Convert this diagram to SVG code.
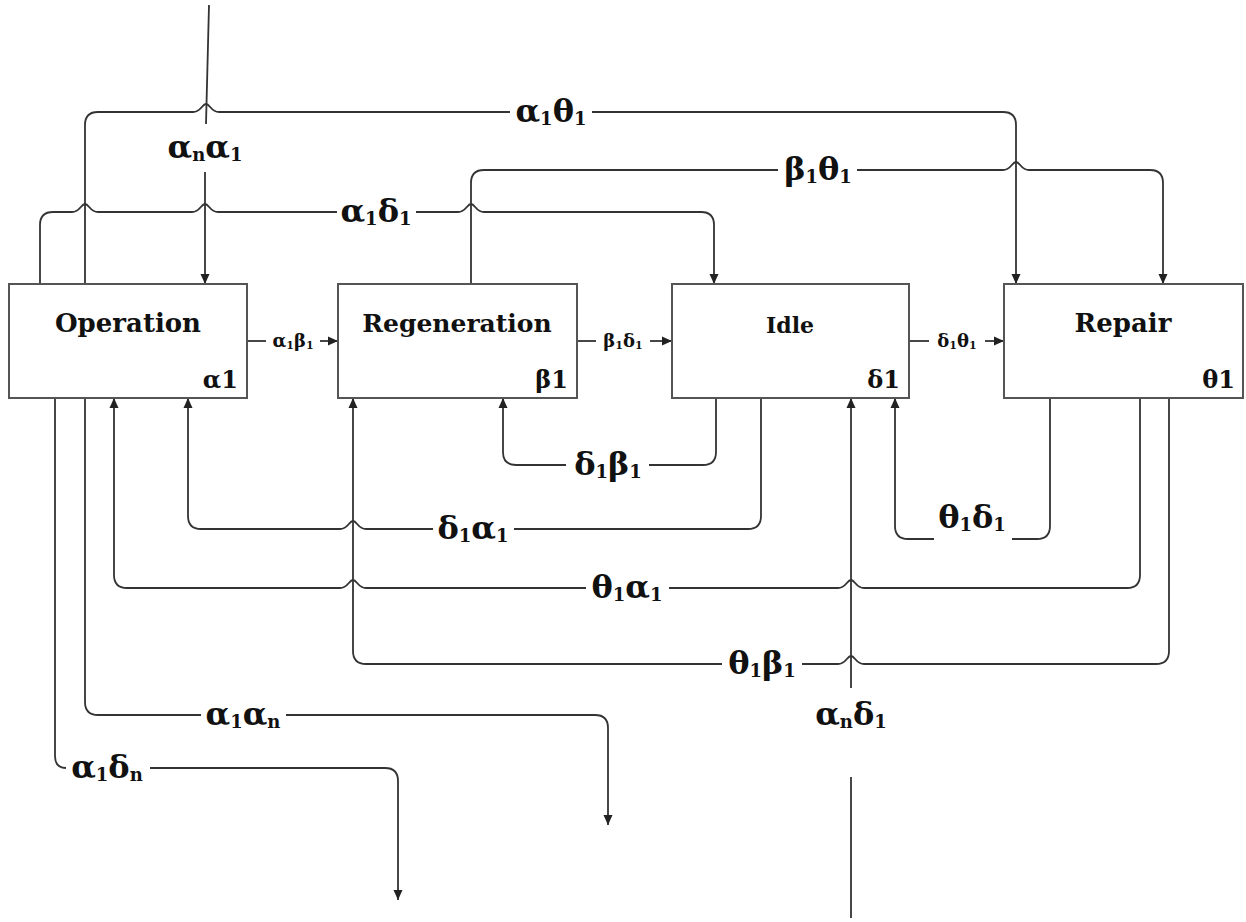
<svg xmlns="http://www.w3.org/2000/svg" width="1246" height="922" viewBox="0 0 1246 922">
<defs>
<marker id="ah" viewBox="0 0 10 10" refX="10" refY="5" markerWidth="10" markerHeight="10" markerUnits="userSpaceOnUse" orient="auto">
<path d="M0,0.5 L10,5 L0,9.5 Z" fill="#222"/>
</marker>
<style>
.box{fill:#fff;stroke:#555;stroke-width:2}
.ln{fill:none;stroke:#333;stroke-width:1.8}
.arr{fill:none;stroke:#333;stroke-width:1.8;marker-end:url(#ah)}
.title{font-family:"DejaVu Serif","Liberation Serif",serif;font-weight:bold;fill:#111;text-anchor:middle}
.corner{font-family:"DejaVu Serif","Liberation Serif",serif;font-weight:bold;font-size:24px;fill:#111;text-anchor:end}
.lbl{font-family:"DejaVu Serif","Liberation Serif",serif;font-weight:bold;font-size:32px;fill:#111;text-anchor:middle}
.sm{font-family:"DejaVu Serif","Liberation Serif",serif;font-weight:bold;font-size:18px;fill:#111;text-anchor:middle}
.sub{font-size:18px}
.ssub{font-size:11px}
</style>
</defs>

<g id="connectors">
<!-- alpha_n alpha_1 input from top -->
<path class="ln" d="M209,5 L206,124"/>
<path class="arr" d="M205,172 V284"/>
<!-- alpha1 theta1 -->
<path class="ln" d="M85,284 V125 Q85,112 98,112 H193 C201,112 202,104 206,104 C210,104 211,112 219,112 H510"/>
<path class="arr" d="M592,112 H1003 Q1016,112 1016,125 V284"/>
<!-- alpha1 delta1 -->
<path class="ln" d="M40,284 V225 Q40,212 53,212 H72 C80,212 81,204 85,204 C89,204 90,212 98,212 H192 C200,212 201,204 205,204 C209,204 210,212 218,212 H337"/>
<path class="arr" d="M416,212 H458 C466,212 467,204 471,204 C475,204 476,212 484,212 H701 Q714,212 714,225 V284"/>
<!-- beta1 theta1 -->
<path class="ln" d="M471,284 V183 Q471,170 484,170 H778"/>
<path class="arr" d="M857,170 H1003 C1011,170 1012,162 1016,162 C1020,162 1021,170 1029,170 H1150 Q1163,170 1163,183 V284"/>
<!-- horizontal arrows between boxes -->
<path class="ln" d="M247,341 H266"/>
<path class="arr" d="M320,341 H338"/>
<path class="ln" d="M577,341 H596"/>
<path class="arr" d="M650,341 H672"/>
<path class="ln" d="M909,341 H929"/>
<path class="arr" d="M985,341 H1004"/>
<!-- delta1 beta1 -->
<path class="ln" d="M716,398 V452 Q716,465 703,465 H649"/>
<path class="arr" d="M566,465 H516 Q503,465 503,452 V398"/>
<!-- delta1 alpha1 -->
<path class="ln" d="M761,398 V516 Q761,529 748,529 H514"/>
<path class="arr" d="M433,529 H366 C358,529 357,521 353,521 C349,521 348,529 340,529 H201 Q188,529 188,516 V398"/>
<!-- theta1 alpha1 -->
<path class="ln" d="M1140,398 V575 Q1140,588 1127,588 H864 C856,588 855,580 851,580 C847,580 846,588 838,588 H669"/>
<path class="arr" d="M586,588 H366 C358,588 357,580 353,580 C349,580 348,588 340,588 H127 Q114,588 114,575 V398"/>
<!-- theta1 beta1 -->
<path class="ln" d="M1169,398 V651 Q1169,664 1156,664 H864 C856,664 855,656 851,656 C847,656 846,664 838,664 H802"/>
<path class="arr" d="M722,664 H366 Q353,664 353,651 V398"/>
<!-- theta1 delta1 -->
<path class="ln" d="M1050,398 V526 Q1050,539 1037,539 H1012"/>
<path class="arr" d="M934,539 H908 Q895,539 895,526 V398"/>
<!-- alpha_n delta1 input from bottom -->
<path class="ln" d="M851,918 V777"/>
<path class="arr" d="M851,688 V398"/>
<!-- alpha1 alpha_n -->
<path class="ln" d="M85,398 V702 Q85,715 98,715 H201"/>
<path class="arr" d="M286,715 H595 Q608,715 608,728 V825"/>
<!-- alpha1 delta_n -->
<path class="ln" d="M55,398 V756 Q55,768 66,768"/>
<path class="arr" d="M150,768 H385 Q398,768 398,781 V900"/>

<!-- connector labels -->
<text class="lbl" x="205" y="158">α<tspan class="sub" dy="3">n</tspan><tspan dy="-3">α</tspan><tspan class="sub" dy="3">1</tspan></text>
<text class="lbl" x="551" y="122">α<tspan class="sub" dy="3">1</tspan><tspan dy="-3">θ</tspan><tspan class="sub" dy="3">1</tspan></text>
<text class="lbl" x="376" y="222">α<tspan class="sub" dy="3">1</tspan><tspan dy="-3">δ</tspan><tspan class="sub" dy="3">1</tspan></text>
<text class="lbl" x="818" y="180">β<tspan class="sub" dy="3">1</tspan><tspan dy="-3">θ</tspan><tspan class="sub" dy="3">1</tspan></text>
<text class="sm" x="293" y="347">α<tspan class="ssub" dy="2">1</tspan><tspan dy="-2">β</tspan><tspan class="ssub" dy="2">1</tspan></text>
<text class="sm" x="623" y="347">β<tspan class="ssub" dy="2">1</tspan><tspan dy="-2">δ</tspan><tspan class="ssub" dy="2">1</tspan></text>
<text class="sm" x="957" y="347">δ<tspan class="ssub" dy="2">1</tspan><tspan dy="-2">θ</tspan><tspan class="ssub" dy="2">1</tspan></text>
<text class="lbl" x="608" y="475">δ<tspan class="sub" dy="3">1</tspan><tspan dy="-3">β</tspan><tspan class="sub" dy="3">1</tspan></text>
<text class="lbl" x="473" y="539">δ<tspan class="sub" dy="3">1</tspan><tspan dy="-3">α</tspan><tspan class="sub" dy="3">1</tspan></text>
<text class="lbl" x="972" y="528">θ<tspan class="sub" dy="3">1</tspan><tspan dy="-3">δ</tspan><tspan class="sub" dy="3">1</tspan></text>
<text class="lbl" x="627" y="598">θ<tspan class="sub" dy="3">1</tspan><tspan dy="-3">α</tspan><tspan class="sub" dy="3">1</tspan></text>
<text class="lbl" x="762" y="674">θ<tspan class="sub" dy="3">1</tspan><tspan dy="-3">β</tspan><tspan class="sub" dy="3">1</tspan></text>
<text class="lbl" x="851" y="725">α<tspan class="sub" dy="3">n</tspan><tspan dy="-3">δ</tspan><tspan class="sub" dy="3">1</tspan></text>
<text class="lbl" x="243" y="725">α<tspan class="sub" dy="3">1</tspan><tspan dy="-3">α</tspan><tspan class="sub" dy="3">n</tspan></text>
<text class="lbl" x="107" y="778">α<tspan class="sub" dy="3">1</tspan><tspan dy="-3">δ</tspan><tspan class="sub" dy="3">n</tspan></text>
</g>

<g id="operation">
<rect class="box" x="9" y="284" width="238" height="114"/>
<text class="title" x="128" y="332" font-size="26">Operation</text>
<text class="corner" x="238" y="388">α1</text>
</g>
<g id="regeneration">
<rect class="box" x="338" y="284" width="239" height="114"/>
<text class="title" x="457" y="332" font-size="25">Regeneration</text>
<text class="corner" x="568" y="388">β1</text>
</g>
<g id="idle">
<rect class="box" x="672" y="284" width="237" height="114"/>
<text class="title" x="790" y="333" font-size="22">Idle</text>
<text class="corner" x="900" y="388">δ1</text>
</g>
<g id="repair">
<rect class="box" x="1004" y="284" width="239" height="114"/>
<text class="title" x="1123" y="332" font-size="26">Repair</text>
<text class="corner" x="1235" y="388">θ1</text>
</g>
</svg>
